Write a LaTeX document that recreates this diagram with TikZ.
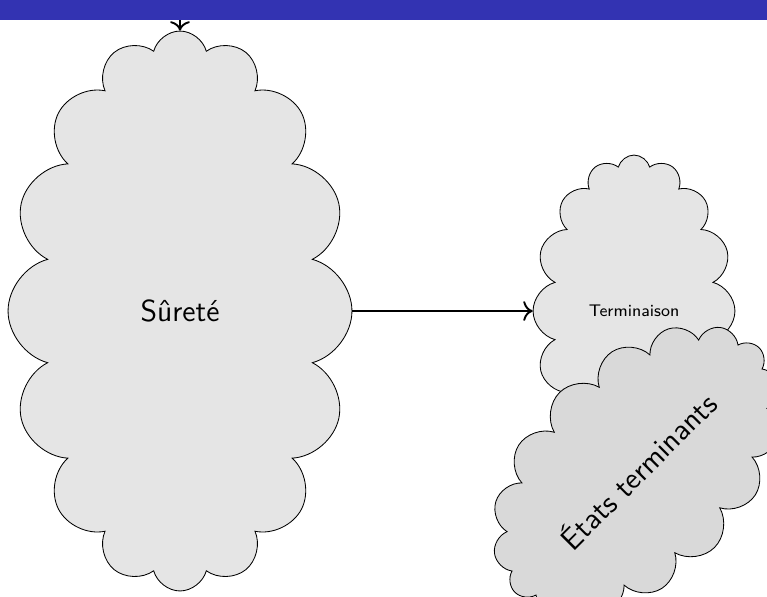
\documentclass[tikz,border=0pt]{standalone}
\usetikzlibrary{shapes.symbols,arrows.meta}
\definecolor{barblue}{RGB}{51,51,178}
\begin{document}
\begin{tikzpicture}[x=0.4745pt,y=-0.4745pt,
  puffy/.style={cloud, cloud puffs=16, draw=black, fill=black!10,
    cloud ignores aspect, inner sep=0pt, font=\sffamily},
  bigtext/.style={font=\sffamily\fontsize{14.4}{17}\selectfont},
  smalltext/.style={font=\sffamily\fontsize{8}{9.5}\selectfont},
  link/.style={-{To[scale=1.25]}, line width=0.9pt}
]
\useasboundingbox (0,0) rectangle (767,596);
\clip (0,0) rectangle (767,596);

% safety cloud and its incoming edge
\coordinate (entry) at (180,10);
\node[puffy, bigtext, minimum width=163.2pt, minimum height=265.7pt] (surete) at (180,311) {Sûreté};

% termination cloud and the terminal-states cloud laid over it
\node[puffy, smalltext, minimum width=95.8pt, minimum height=148pt] (term) at (634,311) {Terminaison};
\node[puffy, bigtext, fill=black!15, rotate=45, minimum width=164pt, minimum height=104pt] (etats) at (637,470) {États terminants};

\draw[link] (entry) -- (surete.north);
\draw[link] (surete.east) -- (term.west);

% header bar
\fill[barblue] (0,0) rectangle (767,20);
\end{tikzpicture}
\end{document}
